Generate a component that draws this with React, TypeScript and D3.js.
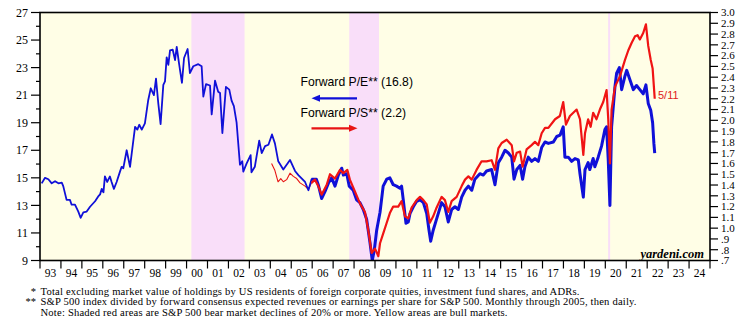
import React from 'react';
import * as d3 from 'd3';

const yearLabels = ['93','94','95','96','97','98','99','00','01','02','03','04','05','06','07','08','09','10','11','12','13','14','15','16','17','18','19','20','21','22','23','24'];
const leftTickValues = [9, 11, 13, 15, 17, 19, 21, 23, 25, 27];
const rightTickLabels = ['.7','.8','.9','1.0','1.1','1.2','1.3','1.4','1.5','1.6','1.7','1.8','1.9','2.0','2.1','2.2','2.3','2.4','2.5','2.6','2.7','2.8','2.9','3.0'];
const bearStarts = [2000.23, 2007.77, 2020.135];
const bearEnds = [2002.77, 2009.19, 2020.23];

const peYears = [1993.08,1993.24,1993.40,1993.56,1993.72,1993.88,1994.04,1994.11,1994.27,1994.43,1994.51,1994.67,1994.83,1994.94,1995.07,1995.23,1995.39,1995.63,1995.78,1995.87,1995.95,1996.03,1996.10,1996.21,1996.34,1996.42,1996.53,1996.66,1996.82,1996.90,1996.98,1997.14,1997.30,1997.54,1997.65,1997.74,1997.86,1998.01,1998.17,1998.29,1998.44,1998.54,1998.65,1998.76,1998.89,1998.97,1999.05,1999.13,1999.21,1999.34,1999.45,1999.53,1999.64,1999.78,1999.88,2000.05,2000.16,2000.32,2000.56,2000.72,2000.80,2000.93,2001.12,2001.20,2001.36,2001.51,2001.60,2001.71,2001.88,2002.04,2002.15,2002.26,2002.39,2002.55,2002.66,2002.71,2002.87,2003.06,2003.10,2003.26,2003.47,2003.59,2003.75,2003.91,2004.08,2004.22,2004.38,2004.62,2004.94,2005.18,2005.34,2005.66,2005.82,2005.97,2006.20,2006.29,2006.45,2006.61,2006.77,2006.93,2007.09,2007.25,2007.41,2007.49,2007.65,2007.77,2007.96,2008.12,2008.28,2008.44,2008.60,2008.76,2008.87,2008.97,2009.08,2009.24,2009.39,2009.56,2009.71,2009.87,2010.03,2010.19,2010.27,2010.35,2010.48,2010.59,2010.67,2010.83,2010.99,2011.15,2011.31,2011.47,2011.58,2011.66,2011.78,2011.94,2012.18,2012.34,2012.50,2012.66,2012.82,2012.98,2013.14,2013.30,2013.46,2013.62,2013.77,2014.01,2014.17,2014.33,2014.57,2014.73,2014.89,2015.05,2015.21,2015.37,2015.53,2015.64,2015.77,2015.93,2016.05,2016.16,2016.32,2016.48,2016.64,2016.80,2016.96,2017.12,2017.28,2017.52,2017.68,2017.84,2017.99,2018.07,2018.23,2018.39,2018.55,2018.71,2018.79,2018.95,2019.03,2019.18,2019.26,2019.42,2019.50,2019.66,2019.82,2019.98,2020.06,2020.14,2020.22,2020.30,2020.46,2020.54,2020.67,2020.78,2020.94,2021.02,2021.18,2021.34,2021.49,2021.65,2021.81,2021.94,2022.05,2022.17,2022.26,2022.32,2022.36];
const peValues = [14.6,15.0,14.9,14.6,14.75,14.6,14.65,14.4,13.4,13.4,13.05,13.05,12.55,12.1,12.5,12.55,12.9,13.3,13.65,13.8,14.2,13.95,15.1,14.7,15.1,14.7,14.2,14.7,15.45,15.8,15.7,17.0,15.8,18.7,18.5,18.85,18.5,18.95,20.65,21.5,21.0,22.2,20.4,18.9,21.75,22.0,23.75,23.2,24.25,24.3,23.55,24.5,23.3,21.9,23.7,24.35,22.6,23.1,23.25,23.1,20.9,21.8,21.7,19.6,22.05,21.25,21.15,18.25,21.6,21.4,20.6,20.2,19.0,15.95,16.2,15.45,16.05,16.65,15.4,15.8,17.7,16.8,17.3,17.4,18.15,17.5,16.2,15.6,16.3,15.5,15.2,14.7,14.1,14.9,14.9,14.5,13.5,14.0,14.6,15.0,14.4,15.2,15.7,15.2,15.3,14.4,14.1,13.4,13.2,12.7,12.0,10.3,9.0,9.8,11.2,12.5,14.4,14.9,15.0,14.5,14.4,14.25,14.4,13.4,11.7,11.8,12.4,12.9,13.3,13.4,13.2,12.4,11.2,10.4,11.2,12.0,13.2,12.9,11.8,12.7,12.9,12.7,13.6,14.1,14.4,14.1,14.9,15.3,15.2,15.5,15.6,14.5,16.1,16.5,17.0,16.8,16.5,14.9,15.6,15.9,14.9,15.8,16.5,16.2,16.4,16.2,17.2,17.6,17.5,17.6,18.0,18.1,18.7,16.5,16.5,16.2,16.4,16.3,15.3,13.6,15.6,16.1,15.6,16.4,15.8,16.5,17.3,18.5,18.7,16.3,13.0,18.7,21.6,22.6,23.0,21.4,22.4,22.8,22.1,21.4,21.7,21.4,21.1,21.75,20.4,19.9,19.0,17.5,16.8];

const psYears = [2004.06,2004.21,2004.37,2004.50,2004.62,2004.78,2004.94,2005.10,2005.26,2005.42,2005.66,2005.82,2005.97,2006.13,2006.29,2006.45,2006.69,2006.85,2007.09,2007.33,2007.49,2007.68,2007.80,2008.04,2008.28,2008.52,2008.68,2008.84,2009.00,2009.16,2009.24,2009.39,2009.56,2009.71,2009.87,2010.11,2010.27,2010.43,2010.59,2010.75,2010.99,2011.15,2011.31,2011.47,2011.62,2011.78,2011.94,2012.18,2012.34,2012.50,2012.66,2012.90,2013.14,2013.30,2013.46,2013.62,2013.85,2014.09,2014.33,2014.57,2014.73,2014.89,2015.05,2015.29,2015.53,2015.64,2015.77,2015.93,2016.05,2016.24,2016.48,2016.64,2016.80,2016.96,2017.12,2017.28,2017.60,2017.83,2017.99,2018.12,2018.31,2018.47,2018.63,2018.79,2018.95,2019.03,2019.18,2019.30,2019.42,2019.58,2019.74,2019.90,2020.06,2020.14,2020.22,2020.30,2020.46,2020.70,2020.94,2021.10,2021.26,2021.42,2021.54,2021.65,2021.81,2021.94,2022.05,2022.17,2022.26,2022.36];
const psValues = [1.60,1.54,1.43,1.46,1.43,1.45,1.51,1.48,1.46,1.42,1.39,1.36,1.42,1.45,1.39,1.31,1.40,1.50,1.46,1.54,1.51,1.54,1.45,1.34,1.23,1.15,0.98,0.77,0.81,0.74,0.86,0.95,1.05,1.14,1.20,1.20,1.25,1.11,1.09,1.19,1.26,1.29,1.26,1.22,1.05,1.11,1.19,1.29,1.26,1.15,1.25,1.29,1.39,1.45,1.48,1.45,1.54,1.62,1.62,1.63,1.54,1.74,1.79,1.82,1.77,1.62,1.70,1.71,1.57,1.73,1.77,1.80,1.77,1.88,1.93,1.93,2.01,2.04,2.17,1.96,2.04,2.07,2.10,2.01,1.68,1.88,2.01,1.94,2.07,2.01,2.10,2.17,2.28,2.01,1.60,2.10,2.31,2.41,2.56,2.65,2.72,2.78,2.79,2.75,2.81,2.89,2.69,2.56,2.48,2.20];

const footMarks = ['*', '**', ''];
const footTexts = [
  'Total excluding market value of holdings by US residents of foreign corporate quities, investment fund shares, and ADRs.',
  'S&P 500 index divided by forward consensus expected revenues or earnings per share for S&P 500. Monthly through 2005, then daily.',
  'Note: Shaded red areas are S&P 500 bear market declines of 20% or more. Yellow areas are bull markets.',
];

const W = 753, H = 327;
const L = 40, R = 710, T = 12.5, B = 260.5;
const SERIF = '"Liberation Serif", "Times New Roman", serif';
const SANS = '"Liberation Sans", Arial, sans-serif';

export default function App() {
  const x = d3.scaleLinear().domain([1993, 2025]).range([L, R]);
  const yL = d3.scaleLinear().domain([9, 27]).range([B, T]);
  const yR = d3.scaleLinear().domain([0.7, 3.0]).range([B, T]);

  const pe = peYears.map((yr, i) => [yr, peValues[i]] as [number, number]);
  const ps = psYears.map((yr, i) => [yr, psValues[i]] as [number, number]);
  const lineL = d3.line<[number, number]>().x(d => x(d[0])).y(d => yL(d[1]));
  const lineR = d3.line<[number, number]>().x(d => x(d[0])).y(d => yR(d[1]));
  const peMonthly = pe.filter(d => d[0] <= 2006.2);
  const peDaily = pe.filter(d => d[0] >= 2005.97);
  const psMonthly = ps.filter(d => d[0] <= 2006.13);
  const psDaily = ps.filter(d => d[0] >= 2005.97);

  const yearTicks = d3.range(1993, 2026);
  const leftMinor = d3.range(10, 27, 2);
  const rightVals = rightTickLabels.map(s => parseFloat(s));

  return (
    <svg width={W} height={H} style={{ position: 'absolute', left: 0, top: 0, background: '#fff' }}>
      <defs>
        <clipPath id="plot"><rect x={L} y={T} width={R - L} height={B - T} /></clipPath>
      </defs>
      <rect x={L} y={T} width={R - L} height={B - T} fill="#FFFEE6" />
      {bearStarts.map((s, i) => (
        <rect key={i} x={x(s)} y={T} width={Math.max(1.5, x(bearEnds[i]) - x(s))} height={B - T} fill="#F9DEF9" />
      ))}
      <g clipPath="url(#plot)" fill="none" strokeLinejoin="round">
        <path d={lineR(psMonthly) || ''} stroke="#E81414" strokeWidth={1.1} />
        <path d={lineL(peMonthly) || ''} stroke="#1010D8" strokeWidth={1.8} />
        <path d={lineL(peDaily) || ''} stroke="#1010D8" strokeWidth={3.0} />
        <path d={lineR(psDaily) || ''} stroke="#F01414" strokeWidth={2.2} />
      </g>
      <rect x={L} y={T} width={R - L} height={B - T} fill="none" stroke="#000" strokeWidth={1.6} />

      {leftTickValues.map(v => (
        <g key={v}>
          <line x1={L - 9} x2={L} y1={yL(v)} y2={yL(v)} stroke="#000" strokeWidth={1.2} />
          <text x={L - 12} y={yL(v)} dy="0.35em" textAnchor="end" fontFamily={SERIF} fontSize={12}>{v}</text>
        </g>
      ))}
      {leftMinor.map(v => (
        <line key={v} x1={L - 4} x2={L} y1={yL(v)} y2={yL(v)} stroke="#000" strokeWidth={1.2} />
      ))}

      {rightVals.map((v, i) => (
        <g key={i}>
          <line x1={R} x2={R + 8} y1={yR(v)} y2={yR(v)} stroke="#000" strokeWidth={1.2} />
          <text x={R + 11} y={yR(v)} dy="0.35em" textAnchor="start" fontFamily={SERIF} fontSize={11}>{rightTickLabels[i]}</text>
        </g>
      ))}

      {yearTicks.map(yr => (
        <line key={yr} x1={x(yr)} x2={x(yr)} y1={B} y2={B + 8} stroke="#000" strokeWidth={1.2} />
      ))}
      {yearLabels.map((lab, i) => (
        <text key={lab} x={x(1993 + i + 0.5)} y={B + 12} dy="0.35em" textAnchor="middle" fontFamily={SERIF} fontSize={11.5}>{lab}</text>
      ))}

      <text x={300.5} y={82} dy="0.35em" fontFamily={SANS} fontSize={12.2} fill="#000">Forward P/E** (16.8)</text>
      <line x1={318} x2={357} y1={98.3} y2={98.3} stroke="#1010D8" strokeWidth={2.2} />
      <path d="M311.5,98.3 L320,94.8 L320,101.8 Z" fill="#1010D8" />
      <text x={300.5} y={112.5} dy="0.35em" fontFamily={SANS} fontSize={12.2} fill="#000">Forward P/S** (2.2)</text>
      <line x1={311.5} x2={350} y1={128.3} y2={128.3} stroke="#E81414" strokeWidth={2.2} />
      <path d="M357.5,128.3 L349,124.8 L349,131.8 Z" fill="#E81414" />

      <text x={658} y={95} dy="0.35em" fontFamily={SANS} fontSize={11} fill="#E02020">5/11</text>
      <text x={704} y={254} dy="0.35em" textAnchor="end" fontFamily={SERIF} fontSize={12.5} fontWeight="bold" fontStyle="italic">yardeni.com</text>

      {footTexts.map((t, i) => (
        <g key={i} fontFamily={SERIF} fontSize={10.6}>
          {footMarks[i] ? <text x={36} y={291.5 + i * 10.2} dy="0.35em" textAnchor="end">{footMarks[i]}</text> : null}
          <text x={40.5} y={291.5 + i * 10.2} dy="0.35em" textLength={i === 0 ? 539 : i === 1 ? 596 : 467} lengthAdjust="spacing">{t}</text>
        </g>
      ))}
    </svg>
  );
}
